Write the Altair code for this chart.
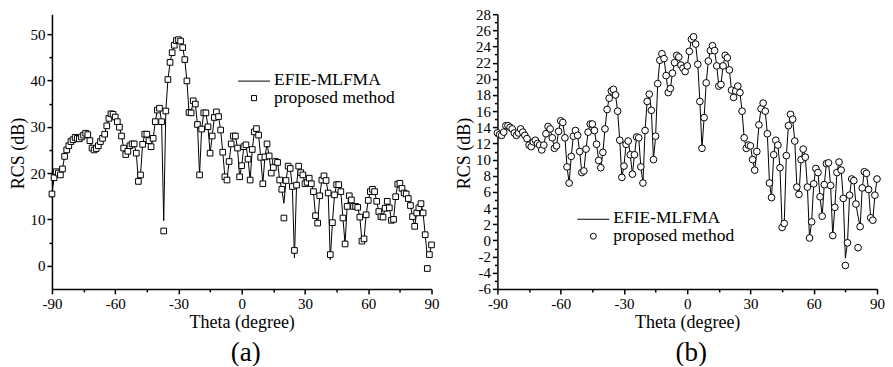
import altair as alt
import pandas as pd

FONT = "Liberation Serif"

theta = list(range(-90, 91))

# Panel (a): EFIE-MLFMA line values (dB), theta = -90..90 step 1
efie_a = [
    15.5, 19.0, 20.3, 20.0, 19.6, 20.9, 23.6, 25.0, 25.9, 26.8,   # -90..-81
    27.2, 27.7, 27.5, 27.4, 27.8, 28.2, 28.6, 28.3, 27.0, 25.4,   # -80..-71
    25.0, 25.3, 25.9, 26.8, 27.5, 28.4, 30.2, 31.8, 32.8, 32.7,   # -70..-61
    32.1, 31.1, 29.9, 28.0, 25.4, 24.0, 24.7, 25.9, 26.3, 26.3,   # -60..-51
    24.3, 18.2, 19.6, 26.2, 28.4, 28.4, 27.0, 25.7, 27.5, 31.1,   # -50..-41
    33.6, 34.0, 31.1, 9.7, 33.4, 40.2, 43.9, 46.0, 47.6, 48.6,    # -40..-31
    48.8, 48.5, 47.1, 44.5, 39.9, 33.1, 33.0, 35.6, 34.9, 30.5,   # -30..-21
    19.6, 29.5, 33.0, 33.0, 30.0, 24.3, 28.0, 32.0, 33.2, 32.2,   # -20..-11
    29.3, 24.5, 19.2, 18.5, 22.5, 26.3, 28.0, 28.0, 25.4, 19.2,   # -10..-1
    21.6, 25.7, 26.1, 23.0, 18.5, 25.1, 28.9, 29.6, 28.2, 23.4,   # 0..9
    17.7, 23.5, 26.3, 23.7, 20.0, 21.2, 22.5, 22.3, 18.5, 16.5,   # 10..19
    13.5, 18.4, 21.5, 21.0, 17.1, 1.7, 17.4, 21.5, 20.1, 19.6,    # 20..29
    17.7, 18.0, 18.9, 17.7, 16.0, 10.8, 9.2, 15.1, 18.5, 19.4,    # 30..39
    18.4, 15.7, 1.3, 9.3, 15.3, 17.5, 17.5, 16.0, 10.3, 4.7,      # 40..49
    12.8, 15.1, 14.2, 12.8, 12.8, 12.6, 10.5, 5.3, 5.8, 11.0,     # 50..59
    14.1, 16.0, 16.5, 16.0, 13.9, 11.7, 10.6, 10.5, 12.4, 13.9,   # 60..69
    12.5, 9.8, 10.0, 14.9, 17.6, 17.8, 16.7, 15.7, 15.5, 14.5,    # 70..79
    13.0, 10.6, 8.5, 11.4, 12.5, 13.4, 11.4, 6.7, 2.0, 2.4,       # 80..89
    4.5,                                                          # 90
]
# Panel (a): proposed method markers (equal to the line except where read differently)
prop_a = list(efie_a)
prop_a_diff = {-37: 7.5, 20: 10.3, 25: 3.3, 42: 2.4, 88: -0.6}
for t, v in prop_a_diff.items():
    prop_a[t + 90] = v

# Panel (b): EFIE-MLFMA line values (dB)
efie_b = [
    13.3, 13.1, 13.0, 13.4, 14.2, 14.2, 14.0, 13.8, 13.3, 13.0,   # -90..-81
    13.3, 13.8, 13.4, 13.0, 12.6, 11.8, 11.6, 12.2, 12.4, 12.0,   # -80..-71
    11.8, 11.2, 11.8, 13.2, 14.1, 13.8, 12.7, 11.4, 11.7, 13.5,   # -70..-61
    14.8, 14.6, 12.7, 9.1, 7.1, 10.4, 12.9, 13.6, 13.0, 11.0,     # -60..-51
    8.4, 8.6, 11.3, 13.4, 14.4, 14.4, 13.6, 11.9, 9.9, 9.0,       # -50..-41
    10.9, 13.8, 16.2, 17.6, 18.5, 18.7, 18.0, 16.0, 12.4, 7.8,    # -40..-31
    9.2, 11.9, 12.3, 10.6, 8.2, 10.6, 12.8, 12.7, 9.1, 7.1,       # -30..-21
    13.6, 17.2, 18.1, 16.1, 10.0, 12.9, 19.4, 22.3, 23.1, 22.5,   # -20..-11
    20.4, 18.3, 18.8, 20.7, 22.0, 22.9, 22.7, 21.7, 21.3, 20.9,   # -10..-1
    21.6, 23.4, 24.9, 25.2, 24.3, 21.8, 17.2, 11.4, 15.2, 19.5,   # 0..9
    22.2, 23.5, 24.1, 23.5, 21.6, 19.1, 19.3, 21.6, 22.9, 22.6,   # 10..19
    21.1, 18.6, 17.7, 18.5, 19.1, 18.3, 16.0, 12.7, 11.4, 11.8,   # 20..29
    11.7, 10.0, 8.7, 11.0, 14.3, 16.3, 17.0, 16.0, 13.2, 7.1,     # 30..39
    5.3, 10.6, 12.4, 11.8, 9.0, 1.6, 2.1, 10.5, 14.2, 15.6,       # 40..49
    15.0, 12.3, 6.6, 5.7, 10.0, 11.3, 10.3, 6.6, 0.3, 2.3,        # 50..59
    7.0, 8.9, 8.4, 5.4, 3.0, 6.9, 9.5, 9.6, 6.8, 0.6,             # 60..69
    4.1, 8.4, 9.7, 8.7, 5.2, -2.2, -0.3, 5.6, 7.6, 7.4,           # 70..79
    4.5, 3.0, 1.7, 6.5, 8.5, 8.3, 6.3, 2.8, 2.5, 5.6,             # 80..89
    7.6,                                                          # 90
]
prop_b = list(efie_b)
prop_b_diff = {75: -3.1, 81: -0.9}
for t, v in prop_b_diff.items():
    prop_b[t + 90] = v

assert len(efie_a) == 181 and len(efie_b) == 181

legend_labels = ["EFIE-MLFMA", "proposed method"]
x_ticks = list(range(-90, 91, 15))
y_ticks_a = list(range(0, 51, 5))
y_ticks_b = list(range(-6, 29, 1))
panel_labels = ["(a)", "(b)"]

W, H = 380, 275


def panel(efie, prop, shape, size, ydom, yticks, ymajor, title, leg):
    df = pd.DataFrame({"theta": theta, "efie": efie, "prop": prop})
    xax = alt.Axis(
        values=x_ticks, tickCount=500,
        labelExpr="datum.value % 30 === 0 ? '' + datum.value : ''",
        tickSize={"condition": {"test": "datum.value % 30 === 0", "value": 5}, "value": 3},
        labelFontSize={"condition": {"test": "datum.value % 30 !== 0", "value": 0}, "value": 15},
        title="Theta (degree)",
        labelFont=FONT, labelPadding=3, labelColor="black",
        labelOverlap=False,
        titleFont=FONT, titleFontSize=18, titleFontWeight="normal", titlePadding=2,
        titleColor="black", domainColor="black", domainWidth=1.5,
        tickColor="black", tickWidth=1.5, grid=False, labelFlush=False,
    )
    yax = alt.Axis(
        values=yticks, tickCount=500,
        labelExpr=f"datum.value % {ymajor} === 0 ? '' + datum.value : ''",
        tickSize={"condition": {"test": f"datum.value % {ymajor} === 0", "value": 5}, "value": 3},
        labelFontSize={"condition": {"test": f"datum.value % {ymajor} !== 0", "value": 0}, "value": 15},
        title="RCS (dB)",
        labelFont=FONT, labelPadding=2, labelColor="black",
        labelOverlap=False,
        titleFont=FONT, titleFontSize=18, titleFontWeight="normal",
        titleColor="black", titleAngle=270, titleX=-28, titleY=139,
        titleAlign="center", titleBaseline="alphabetic",
        domainColor="black", domainWidth=1.5,
        tickColor="black", tickWidth=1.5, grid=False, labelFlush=False,
    )
    xs = alt.Scale(domain=[-90, 90], nice=False, zero=False)
    ys = alt.Scale(domain=ydom, nice=False, zero=False)
    base = alt.Chart(df)
    line = base.mark_line(color="black", strokeWidth=1).encode(
        x=alt.X("theta:Q", scale=xs, axis=xax),
        y=alt.Y("efie:Q", scale=ys, axis=yax),
    )
    pts = base.mark_point(
        shape=shape, filled=True, fill="white", stroke="black",
        strokeWidth=1, size=size, opacity=1,
    ).encode(
        x=alt.X("theta:Q", scale=xs),
        y=alt.Y("prop:Q", scale=ys),
    )
    one = alt.Chart(pd.DataFrame({"k": [0]}))
    lx, ly = leg
    leg_line = one.mark_rule(color="black", strokeWidth=1).encode(
        x=alt.value(lx), x2=alt.value(lx + 32), y=alt.value(ly)
    )
    leg_pt = one.mark_point(
        shape=shape, filled=True, fill="white", stroke="black",
        strokeWidth=1, size=size * 0.8, opacity=1,
    ).encode(x=alt.value(lx + 16), y=alt.value(ly + 17))
    leg_t1 = one.mark_text(
        align="left", baseline="alphabetic", font=FONT, fontSize=17.5, color="black"
    ).encode(x=alt.value(lx + 36), y=alt.value(ly + 4), text=alt.value(legend_labels[0]))
    leg_t2 = one.mark_text(
        align="left", baseline="alphabetic", font=FONT, fontSize=17.5, color="black"
    ).encode(x=alt.value(lx + 36), y=alt.value(ly + 21.5), text=alt.value(legend_labels[1]))
    return alt.layer(line, pts, leg_line, leg_pt, leg_t1, leg_t2).properties(
        width=W, height=H,
        title=alt.TitleParams(
            title, orient="bottom", font=FONT, fontSize=27, fontWeight="normal",
            color="black", offset=8, anchor="middle", dx=4,
        ),
    )


pa = panel(efie_a, prop_a, "square", 32, [-5, 54.3], y_ticks_a, 10, panel_labels[0], (186.3, 67))
pb = panel(efie_b, prop_b, "circle", 45, [-6, 28], y_ticks_b, 2, panel_labels[1], (80, 205.3))

chart = (
    alt.hconcat(pa, pb, spacing=66, bounds="flush")
    .properties(padding={"left": 2, "top": -1, "right": 0, "bottom": 0})
    .configure_view(stroke=None)
)

chart.save("out.html", embed_options={"renderer": "svg", "actions": False})
